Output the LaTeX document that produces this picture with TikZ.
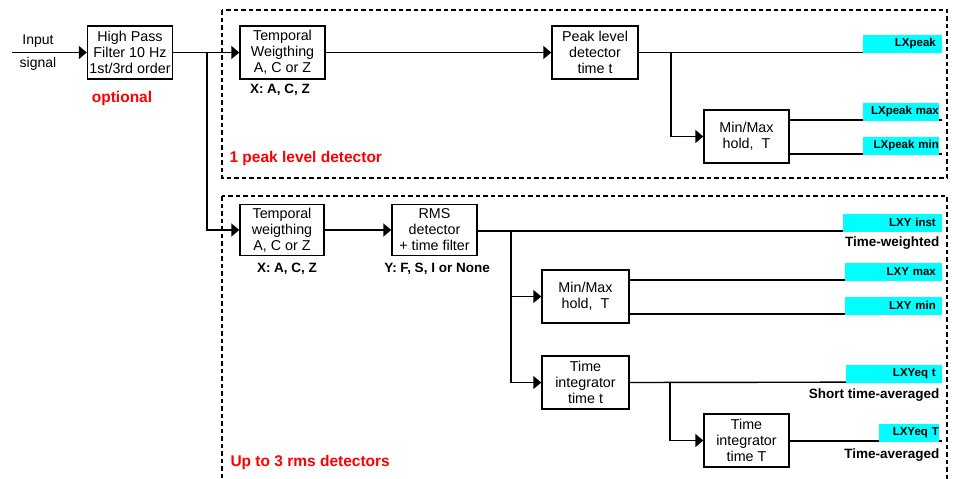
\documentclass[tikz,border=0pt]{standalone}
\usepackage{fontspec}
\setmainfont{Liberation Sans}
\usetikzlibrary{arrows.meta}
\definecolor{lblcyan}{RGB}{0,255,255}
\definecolor{lblred}{RGB}{255,0,0}
\begin{document}
\begin{tikzpicture}[x=1pt,y=-1pt,
  blk/.style={draw,line width=1.4pt,minimum width=85pt,minimum height=53pt,inner sep=0pt,align=center,font=\fontsize{14.3}{16}\selectfont},
  wire/.style={line width=1.4pt},
  arr/.style={wire,-{Triangle[length=8pt,width=13pt]}},
  grp/.style={line width=1.2pt,dash pattern=on 4.5pt off 3pt},
  outl/.style={fill=lblcyan,inner ysep=0pt,inner xsep=6pt,minimum height=18pt,align=right,font=\bfseries\fontsize{11.5}{13}\selectfont},
  sub/.style={font=\bfseries\fontsize{13.5}{15}\selectfont},
  red/.style={text=lblred,font=\bfseries\fontsize{15.5}{17}\selectfont}]
\useasboundingbox (0,0) rectangle (953,479);
\clip (0,0) rectangle (953,479);
% group boxes
\draw[grp] (222,10) rectangle (947,178);
\draw[grp] (222,196) rectangle (947,500);
% blocks
\node[blk] (hpf) at (130,52.5) {High Pass\\Filter 10 Hz\\1st/3rd order};
\node[blk] (tw1) at (282.5,52.5) {Temporal\\Weigthing\\A, C or Z};
\node[blk,minimum width=86pt] (pk) at (595,52.5) {Peak level\\detector\\time t};
\node[blk] (mm1) at (746.5,136.5) {Min/Max\\hold,\ \ T};
\node[blk,minimum width=84pt,minimum height=51pt] (tw2) at (282,230) {Temporal\\weigthing\\A, C or Z};
\node[blk,minimum height=51pt] (rms) at (434.5,230) {RMS\\detector\\+ time filter};
\node[blk,minimum width=87pt] (mm2) at (585.5,296.5) {Min/Max\\hold,\ \ T};
\node[blk,minimum width=87pt] (tit) at (585.5,382.5) {Time\\integrator\\time t};
\node[blk] (tiT) at (746.5,440.5) {Time\\integrator\\time T};
% texts
\node[font=\fontsize{14}{16}\selectfont] (inp) at (38,41) {Input};
\node[font=\fontsize{14}{16}\selectfont] (sig) at (38,64) {signal};
\node[red] (opt) at (122,98) {optional};
\node[sub] (x1) at (280,90) {X: A, C, Z};
\node[sub] (x2) at (287,269) {X: A, C, Z};
\node[sub] (y2) at (437,269) {Y: F, S, I or None};
\node[red,anchor=west] (g1) at (226,158) {1 peak level detector};
\node[red,anchor=west] (g2) at (227,462) {Up to 3 rms detectors};
% coordinates
\coordinate (in) at (12,52.5);
\coordinate (j1) at (207,52.5);
\coordinate (o1) at (942,52.5);
\coordinate (j2) at (671,52.5);
\coordinate (o2) at (942,120);
\coordinate (o3) at (942,154);
\coordinate (j3) at (511,231);
\coordinate (o4) at (942,231);
\coordinate (o5) at (942,280);
\coordinate (o6) at (942,314);
\coordinate (o7) at (942,382);
\coordinate (j4) at (670,382);
\coordinate (o8) at (942,441);
% wires
\draw[arr] (in) -- (hpf.west);
\draw[arr] (hpf.east) -- (tw1.west);
\draw[arr] (j1) |- (tw2.west);
\draw[arr] (tw1.east) -- (pk.west);
\draw[wire] (pk.east) -- (o1);
\draw[arr] (j2) |- (mm1.west);
\draw[wire] (mm1.east |- o2) -- (o2);
\draw[wire] (mm1.east |- o3) -- (o3);
\draw[arr] (tw2.east |- rms.west) -- (rms.west);
\draw[wire] (rms.east |- o4) -- (o4);
\draw[arr] (j3) |- (mm2.west);
\draw[arr] (j3) |- (tit.west);
\draw[wire] (mm2.east |- o5) -- (o5);
\draw[wire] (mm2.east |- o6) -- (o6);
\draw[wire] (tit.east) -- (o7);
\draw[arr] (j4) |- (tiT.west);
\draw[wire] (tiT.east |- o8) -- (o8);
% output labels
\node[outl,anchor=south east,text width=67pt] (l1) at ([yshift=-0.7pt]o1) {LXpeak};
\node[outl,anchor=south east,text width=76pt,inner xsep=0pt] (l2) at ([xshift=-3pt,yshift=-0.7pt]o2) {LXpeak max};
\node[outl,anchor=south east,text width=76pt,inner xsep=0pt] (l3) at ([xshift=-3pt,yshift=-0.7pt]o3) {LXpeak min};
\node[outl,anchor=south east,text width=87pt] (l4) at ([yshift=-0.7pt]o4) {LXY inst};
\node[outl,anchor=south east,text width=85pt] (l5) at ([yshift=-0.7pt]o5) {LXY max};
\node[outl,anchor=south east,text width=85pt] (l6) at ([yshift=-0.7pt]o6) {LXY min};
\node[outl,anchor=south east,text width=84pt] (l7) at ([yshift=-0.7pt]o7) {LXYeq t};
\node[outl,anchor=south east,text width=60pt,inner xsep=0pt] (l8) at ([xshift=-3pt,yshift=-0.7pt]o8) {LXYeq T};
\node[sub,anchor=east] (t1) at (943,243) {Time-weighted};
\node[sub,anchor=east] (t2) at (943,395) {Short time-averaged};
\node[sub,anchor=east] (t3) at (943,455) {Time-averaged};
\end{tikzpicture}
\end{document}
